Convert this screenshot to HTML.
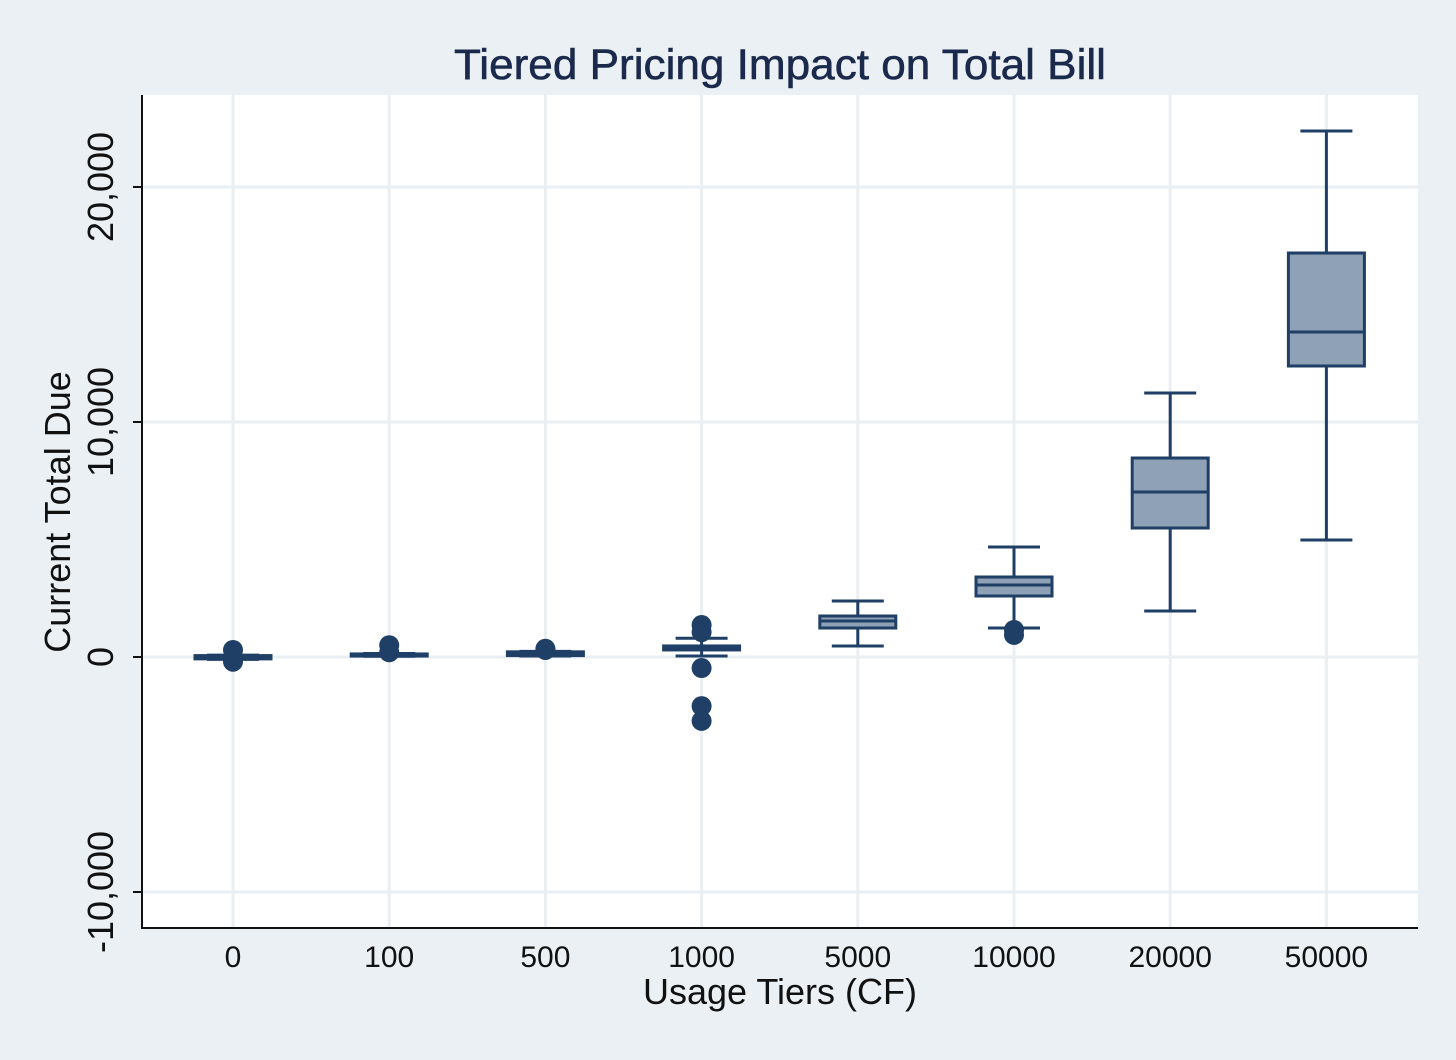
<!DOCTYPE html>
<html><head><meta charset="utf-8"><style>
html,body{margin:0;padding:0;background:#eaf0f3;}
svg{display:block;font-family:"Liberation Sans",sans-serif;}
</style></head><body>
<svg id="chart" width="1456" height="1060" viewBox="0 0 1456 1060">
<rect x="0" y="0" width="1456" height="1060" fill="#eaf0f3"/>
<rect x="142" y="95" width="1276" height="833" fill="#ffffff"/>
<text x="780" y="79" text-anchor="middle" font-size="43" fill="#1b2a4c" stroke="#1b2a4c" stroke-width="0.6" textLength="652" lengthAdjust="spacingAndGlyphs">Tiered Pricing Impact on Total Bill</text>
<g id="grid"></g>
<g id="marks"></g>
<g id="axes"></g>
<text transform="translate(70,512) rotate(-90)" text-anchor="middle" font-size="36" fill="#111">Current Total Due</text>
<text x="780" y="1004" text-anchor="middle" font-size="36" fill="#111">Usage Tiers (CF)</text>
</svg>
<script>
const categories = ["0","100","500","1000","5000","10000","20000","50000"];
const whiskerLow = [-100, 30, 40, 40, 468, 1234, 1957, 4979];
const q1 = [-80, 40, 60, 300, 1234, 2596, 5489, 12383];
const medians = [0, 85, 130, 380, 1532, 3064, 7021, 13830];
const q3 = [60, 130, 220, 470, 1745, 3404, 8468, 17191];
const whiskerHigh = [80, 150, 240, 800, 2383, 4681, 11234, 22383];
const outliers = [[300, -200], [500, 200], [350, 300], [1360, 1060, -470, -2090, -2720], [], [1150, 940], [], []];
const yTicks = [-10000, 0, 10000, 20000];
const yTickLabels = ["-10,000", "0", "10,000", "20,000"];

const NS = "http://www.w3.org/2000/svg";
const plotL = 142, plotR = 1418, plotT = 95, plotB = 928;
function yScale(v){ return 657 - v * 0.0235; }
function xScale(i){ return 233 + i * 156.2; }
function mk(tag, attrs, parent){
  const e = document.createElementNS(NS, tag);
  for (const k in attrs) e.setAttribute(k, attrs[k]);
  parent.appendChild(e); return e;
}
const grid = document.getElementById("grid");
const marks = document.getElementById("marks");
const axes = document.getElementById("axes");
const navy = "#1f3f66", fill = "#8fa1b6";

yTicks.forEach((t, i) => {
  const y = yScale(t);
  const g = mk("line", {x1: plotL, x2: plotR, y1: y, y2: y, stroke: "#eaeff3", "stroke-width": 3}, grid);
  
  
  const tk = mk("line", {x1: plotL - 9, x2: plotL, y1: y, y2: y, stroke: "#111", "stroke-width": 2}, axes);
  
  
  const lb = mk("text", {transform: `translate(113,${y}) rotate(-90)`, "text-anchor": "middle", "font-size": 36, fill: "#111"}, axes);
  lb.textContent = yTickLabels[i];
  
  
});
categories.forEach((c, i) => {
  const x = xScale(i);
  const g = mk("line", {x1: x, x2: x, y1: plotT, y2: plotB, stroke: "#eaeff3", "stroke-width": 3}, grid);
  
  
  const lb = mk("text", {x: x, y: 967, "text-anchor": "middle", "font-size": 30, fill: "#111"}, axes);
  lb.textContent = c;
  
  
});
const ax1 = mk("line", {x1: plotL, x2: plotL, y1: plotT, y2: plotB + 1, stroke: "#111", "stroke-width": 2}, axes);


const ax2 = mk("line", {x1: plotL - 1, x2: plotR, y1: plotB, y2: plotB, stroke: "#111", "stroke-width": 2}, axes);



categories.forEach((c, i) => {
  const x = xScale(i);
  const g = mk("g", {}, marks);
  
  
  const bw = 38, cw = 26;
  mk("line", {x1: x, x2: x, y1: yScale(whiskerHigh[i]), y2: yScale(q3[i]), stroke: navy, "stroke-width": 3}, g);
  mk("line", {x1: x, x2: x, y1: yScale(q1[i]), y2: yScale(whiskerLow[i]), stroke: navy, "stroke-width": 3}, g);
  mk("line", {x1: x - cw, x2: x + cw, y1: yScale(whiskerHigh[i]), y2: yScale(whiskerHigh[i]), stroke: navy, "stroke-width": 3}, g);
  mk("line", {x1: x - cw, x2: x + cw, y1: yScale(whiskerLow[i]), y2: yScale(whiskerLow[i]), stroke: navy, "stroke-width": 3}, g);
  const top = yScale(q3[i]), bot = yScale(q1[i]);
  mk("rect", {x: x - bw, y: top, width: 2 * bw, height: Math.max(bot - top, 1), fill: fill, stroke: navy, "stroke-width": 3}, g);
  mk("line", {x1: x - bw, x2: x + bw, y1: yScale(medians[i]), y2: yScale(medians[i]), stroke: navy, "stroke-width": 3}, g);
  outliers[i].forEach(v => {
    const o = mk("circle", {cx: x, cy: yScale(v), r: 10, fill: navy}, g);
    
    
  });
});
</script>
</body></html>
